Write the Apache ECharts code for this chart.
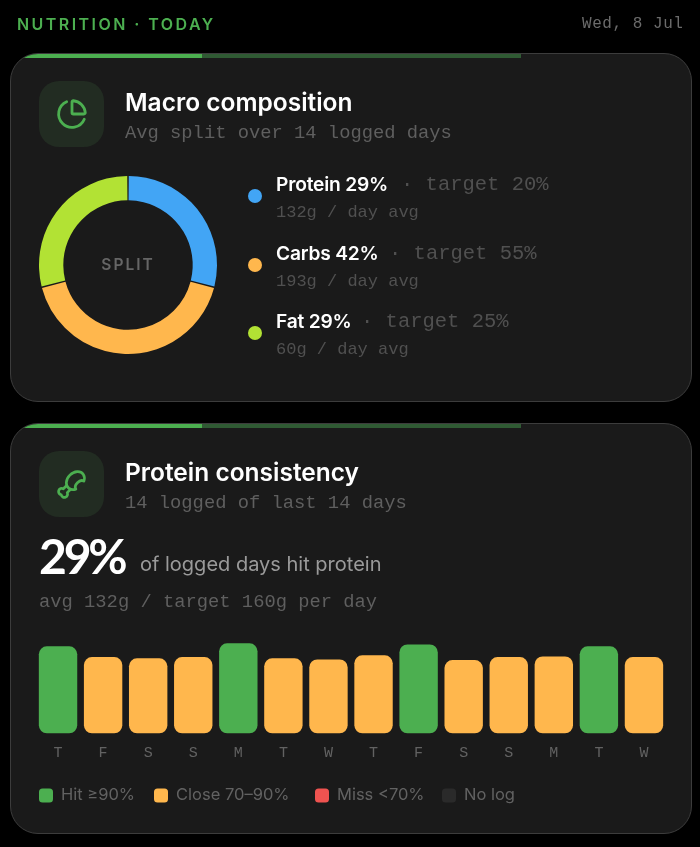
<!DOCTYPE html>
<html lang="en">
<head>
<meta charset="utf-8">
<title>Nutrition today</title>
<script src="https://cdn.jsdelivr.net/npm/echarts@6/dist/echarts.min.js"></script>
<style>
  html, body { margin: 0; padding: 0; background: #000; }
  body { position: relative; width: 700px; height: 847px; overflow: hidden; font-family: Inter, sans-serif; }
  .abs { position: absolute; white-space: nowrap; line-height: 1; will-change: transform; }
  .mono { font-family: "Liberation Mono", monospace; }
  .eyebrow { left: 17px; top: 16px; font-size: 16px; font-weight: 600; letter-spacing: 2.45px; color: #4caf50; }
  .date { right: 16px; top: 16px; font-size: 16px; letter-spacing: 0.55px; color: #6b6b6b; }
  .card { position: absolute; left: 10px; width: 682px; box-sizing: border-box; background: #1a1a1a;
          border: 1.5px solid #3c3c3c; border-radius: 28px; overflow: hidden; }
  .card-1 { top: 53px; height: 349px; }
  .card-2 { top: 423px; height: 411px; }
  .progress { position: absolute; left: -2px; top: -1.5px; height: 5px; }
  .progress.done { width: 193px; background: #4caf50; }
  .progress.rest { left: 191px; width: 319px; background: #2f5a33; }
  .icon { position: absolute; left: 39px; width: 65px; height: 66px; border-radius: 20px; background: #222c22;
          display: flex; align-items: center; justify-content: center; }
  .icon svg { fill: none; stroke: #4caf50; stroke-width: 2.1; stroke-linecap: round; stroke-linejoin: round; }
  .title { left: 125px; font-size: 24.5px; font-weight: 600; color: #fff; }
  .sub { left: 125px; font-size: 18.8px; color: #5f5f5f; }
  .dot { position: absolute; left: 248px; width: 14px; height: 14px; border-radius: 50%; }
  .macro { left: 276px; font-size: 19.2px; font-weight: 600; color: #fff; letter-spacing: -0.2px; }
  .target { font-size: 20.5px; color: #505050; }
  .grams { left: 276px; font-size: 17px; color: #505050; }
  .split { left: 127.5px; top: 257px; transform: translateX(-50%); font-size: 15.5px; font-weight: 600; letter-spacing: 2px; color: #666; }
  .big { left: 39px; top: 532px; font-family: Lato, sans-serif; font-size: 48px; font-weight: 700; color: #fff; letter-spacing: -3.2px; }
  .hit { left: 140px; top: 554px; font-size: 20px; color: #9a9a9a; }
  .avg { left: 39px; top: 593px; font-size: 18.8px; color: #5f5f5f; }
  #donut { position: absolute; left: 28px; top: 165px; width: 200px; height: 200px; }
  #bars { position: absolute; left: 0; top: 620px; width: 700px; height: 200px; }
</style>
</head>
<body>
<div class="abs eyebrow">NUTRITION · TODAY</div>
<div class="abs date mono">Wed, 8 Jul</div>

<div class="card card-1"><div class="progress done"></div><div class="progress rest"></div></div>
<div class="card card-2"><div class="progress done"></div><div class="progress rest"></div></div>

<div class="icon" style="top:81px">
  <svg width="32" height="32" viewBox="0 0 24 24"><path d="M21 12c.552 0 1.005-.449.95-.998a10 10 0 0 0-8.953-8.951c-.55-.055-.998.398-.998.95v8a1 1 0 0 0 1 1z"/><path d="M21.21 15.89A10 10 0 1 1 8 2.83"/></svg>
</div>
<div class="abs title" style="top:90px">Macro composition</div>
<div class="abs sub mono" style="top:124px">Avg split over 14 logged days</div>

<div id="donut"></div>
<div class="abs split">SPLIT</div>
<div id="macroList"></div>

<div class="icon" style="top:451px">
  <svg width="31" height="31" viewBox="0 0 24 24"><path d="M15.4 15.63a7.875 6 135 1 1 6.23-6.23 4.5 3.43 135 0 0-6.23 6.23"/><path d="m8.29 12.71-2.6 2.6a2.5 2.5 0 1 0-1.65 4.65A2.5 2.5 0 1 0 8.7 18.3l2.59-2.59"/></svg>
</div>
<div class="abs title" style="top:460px">Protein consistency</div>
<div class="abs sub mono" style="top:494px">14 logged of last 14 days</div>
<div class="abs big">29%</div>
<div class="abs hit">of logged days hit protein</div>
<div class="abs avg mono">avg 132g / target 160g per day</div>

<div id="bars"></div>

<script>
// Macro split
const macroNames = ['Protein', 'Carbs', 'Fat'];
const macroShares = [29, 42, 29];
const macroTargets = [20, 55, 25];
const macroGrams = [132, 193, 60];
const macroColors = ['#42a5f5', '#ffb74d', '#b2e234'];
const macroRowTops = [175, 244, 312];
const macroTargetLefts = [401.4, 389.4, 361.4];

// Daily protein log, grams per day
const dayLabels = ['T', 'F', 'S', 'S', 'M', 'T', 'W', 'T', 'F', 'S', 'S', 'M', 'T', 'W'];
const proteinGrams = [145, 127, 125, 127, 150, 125, 123, 130, 148, 122, 127, 128, 145, 127];
const proteinTarget = 160;

// Status bands as shares of the daily target
const statusNames = ['Hit ≥90%', 'Close 70–90%', 'Miss <70%', 'No log'];
const statusColors = ['#4caf50', '#ffb74d', '#ef5350', '#2a2a2a'];
const statusLegendLefts = [39, 154, 315, 442];

function statusOf(grams) {
  if (grams == null) return 3;
  const share = grams / proteinTarget;
  return share >= 0.9 ? 0 : share >= 0.7 ? 1 : 2;
}

// Text rows beside the donut
document.getElementById('macroList').innerHTML = macroNames.map((name, i) => `
  <div class="dot" style="top:${macroRowTops[i] + 14}px;background:${macroColors[i]}"></div>
  <div class="abs macro" style="top:${macroRowTops[i]}px">${name} ${macroShares[i]}%</div>
  <div class="abs target mono" style="left:${macroTargetLefts[i]}px;top:${macroRowTops[i]}px">· target ${macroTargets[i]}%</div>
  <div class="abs grams mono" style="top:${macroRowTops[i] + 29}px">${macroGrams[i]}g / day avg</div>`).join('');

echarts.init(document.getElementById('donut')).setOption({
  animation: false,
  series: [{
    type: 'pie',
    center: [100, 100],
    radius: [64.7, 89],
    startAngle: 90,
    padAngle: 1,
    silent: true,
    label: { show: false },
    labelLine: { show: false },
    data: macroNames.map((name, i) => ({
      name, value: macroShares[i], itemStyle: { color: macroColors[i] }
    }))
  }]
});

echarts.init(document.getElementById('bars')).setOption({
  animation: false,
  grid: { left: 35.5, width: 631, top: 17.3, height: 96 },
  // One legend per status so each entry sits at its own offset
  legend: statusNames.map((name, s) => ({
    left: statusLegendLefts[s], top: 167,
    padding: 0,
    itemWidth: 14, itemHeight: 14,
    icon: 'roundRect',
    selectedMode: false,
    textStyle: { color: '#626262', fontFamily: 'Inter, sans-serif', fontSize: 16.5, padding: [0, 0, 0, 3] },
    data: [name]
  })),
  xAxis: {
    type: 'category',
    data: dayLabels,
    axisLine: { show: false },
    axisTick: { show: false },
    axisLabel: {
      margin: 12, interval: 0, color: '#626262',
      fontFamily: '"Liberation Mono", monospace', fontSize: 15
    }
  },
  yAxis: { type: 'value', min: 0, max: proteinTarget, show: false },
  series: statusNames.map((name, s) => ({
    name,
    type: 'bar',
    stack: 'days',
    barWidth: 38.4,
    silent: true,
    itemStyle: { color: statusColors[s], borderRadius: 8 },
    data: proteinGrams.map(g => statusOf(g) === s ? g : null)
  }))
});
</script>
</body>
</html>
